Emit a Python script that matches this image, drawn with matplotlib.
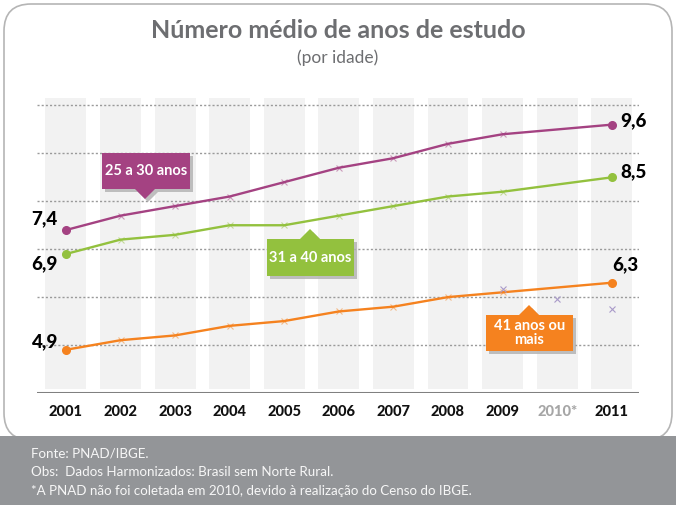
import matplotlib
matplotlib.use("Agg")
import matplotlib.pyplot as plt
from matplotlib.patches import Polygon, FancyBboxPatch, Rectangle

plt.rcParams['font.family'] = ['Lato', 'DejaVu Sans']

# ---- data ----
years = [2001, 2002, 2003, 2004, 2005, 2006, 2007, 2008, 2009, 2011]
year_ticks = [2001, 2002, 2003, 2004, 2005, 2006, 2007, 2008, 2009, 2010, 2011]
year_labels = ["2001", "2002", "2003", "2004", "2005", "2006", "2007", "2008", "2009", "2010*", "2011"]
s25_30 = [7.4, 7.7, 7.9, 8.1, 8.4, 8.7, 8.9, 9.2, 9.4, 9.6]
s31_40 = [6.9, 7.2, 7.3, 7.5, 7.5, 7.7, 7.9, 8.1, 8.2, 8.5]
s41 = [4.9, 5.1, 5.2, 5.4, 5.5, 5.7, 5.8, 6.0, 6.1, 6.3]
extra_years = [2009, 2010, 2011]
extra_vals = [6.17, 5.96, 5.76]
gridvals = [5, 6, 7, 8, 9, 10]

title = "Número médio de anos de estudo"
subtitle = "(por idade)"
footer = ["Fonte: PNAD/IBGE.",
          "Obs:  Dados Harmonizados: Brasil sem Norte Rural.",
          "*A PNAD não foi coletada em 2010, devido à realização do Censo do IBGE."]

PURPLE = "#A44282"
GREEN = "#93C13E"
ORANGE = "#F5821F"

W, H = 676, 505
fig = plt.figure(figsize=(W / 100, H / 100), dpi=100)

def fx(x):
    return x / W

def fy(y):
    return 1 - y / H

# border rounded box
fig.add_artist(FancyBboxPatch((fx(4), fy(440)), fx(668), (436) / H,
                              boxstyle="round,pad=0,rounding_size=0.04",
                              transform=fig.transFigure, fc="none",
                              ec="#b5b5b5", lw=1.2, mutation_aspect=W / H,
                              zorder=-1))
# footer
fig.add_artist(Rectangle((0, 0), 1, fy(436), transform=fig.transFigure,
                         fc="#939598", ec="none", zorder=0))
for i, line in enumerate(footer):
    fig.text(fx(31), fy(453 + i * 19), line, color="#f7f7f7", fontsize=9.6,
             va="center", ha="left")

fig.text(fx(338), fy(31), title, ha="center", va="center", fontsize=18,
         fontweight="bold", color="#6d6e71")
fig.text(fx(338), fy(58), subtitle, ha="center", va="center", fontsize=12.5,
         color="#6d6e71")

ymin, ymax = 4.0, 10.15
ax_left, ax_right = 37, 639
ax_bottom = 392.9
px_per_unit = 47.9
ax_top = ax_bottom - (ymax - ymin) * px_per_unit
ax = fig.add_axes([fx(ax_left), fy(ax_bottom), (ax_right - ax_left) / W,
                   (ax_bottom - ax_top) / H], zorder=2)
ax.set_xlim(2000.47, 2011.5)
ax.set_ylim(ymin, ymax)
ax.patch.set_alpha(0)

# background bars
ax.bar(year_ticks, [ymax - 4.08] * len(year_ticks), bottom=4.08, width=0.75,
       color="#f2f2f2", zorder=0)
for g in gridvals:
    ax.axhline(g, color="#9a9a9a", lw=1.0, ls=(0, (1.5, 1.5)), zorder=1)
ax.axhline(ymin, color="#808080", lw=2.2, zorder=2)

for s, c in [(s25_30, PURPLE), (s31_40, GREEN), (s41, ORANGE)]:
    ax.plot(years, s, color=c, lw=1.7, zorder=3, solid_capstyle="round")
    ax.plot(years[1:-1], s[1:-1], ls="none", marker="x", ms=4, mew=0.8,
            color=c, alpha=0.5, zorder=4)
    ax.plot([years[0], years[-1]], [s[0], s[-1]], ls="none", marker="o",
            ms=5.5, color=c, zorder=5)
ax.plot(extra_years, extra_vals, ls="none", marker="x", ms=4, mew=0.8,
        color="#a99bc9", zorder=4)

lab_kw = dict(textcoords="offset pixels", fontsize=13.5, fontweight="black",
              color="#000000", va="center")
ax.annotate(f"{s25_30[0]:.1f}".replace(".", ","), (years[0], s25_30[0]),
            xytext=(-8, 11), ha="right", **lab_kw)
ax.annotate(f"{s31_40[0]:.1f}".replace(".", ","), (years[0], s31_40[0]),
            xytext=(-8, -10), ha="right", **lab_kw)
ax.annotate(f"{s41[0]:.1f}".replace(".", ","), (years[0], s41[0]),
            xytext=(-8, 8), ha="right", **lab_kw)
ax.annotate(f"{s25_30[-1]:.1f}".replace(".", ","), (years[-1], s25_30[-1]),
            xytext=(9, 4), ha="left", **lab_kw)
ax.annotate(f"{s31_40[-1]:.1f}".replace(".", ","), (years[-1], s31_40[-1]),
            xytext=(9, 6), ha="left", **lab_kw)
ax.annotate(f"{s41[-1]:.1f}".replace(".", ","), (years[-1], s41[-1]),
            xytext=(14, 18), ha="center", **lab_kw)

ax.set_xticks(year_ticks)
ax.set_xticklabels(year_labels, fontsize=10.5, fontweight="black", color="#111111")
ax.get_xticklabels()[year_ticks.index(2010)].set_color("#a6a6a6")
ax.tick_params(axis="x", length=0, pad=9)
ax.set_yticks([])
for sp in ax.spines.values():
    sp.set_visible(False)

def callout(x0, x1, y0, y1, tipx, up, color, text):
    if up:
        tip_y = y0 - 10
        pts = [(x0, y0), (tipx - 10, y0), (tipx, tip_y), (tipx + 10, y0),
               (x1, y0), (x1, y1), (x0, y1)]
    else:
        tip_y = y1 + 10
        pts = [(x0, y0), (x1, y0), (x1, y1), (tipx + 10, y1), (tipx, tip_y),
               (tipx - 10, y1), (x0, y1)]
    sh = [(fx(px + 3), fy(py + 3)) for px, py in pts]
    fig.add_artist(Polygon(sh, closed=True, transform=fig.transFigure,
                           fc="#b0b0b0", ec="none", alpha=0.8, zorder=6))
    pp = [(fx(px), fy(py)) for px, py in pts]
    fig.add_artist(Polygon(pp, closed=True, transform=fig.transFigure,
                           fc=color, ec="none", zorder=7))
    fig.text(fx((x0 + x1) / 2), fy((y0 + y1) / 2), text, ha="center",
             va="center", color="white", fontsize=10.5, fontweight="bold",
             linespacing=1.05, zorder=8)

callout(102, 190, 153, 189, 145, False, PURPLE, "25 a 30 anos")
callout(267, 354, 239, 276, 310, True, GREEN, "31 a 40 anos")
callout(486, 573, 315, 351, 529, True, ORANGE, "41 anos ou\nmais")

fig.savefig("out.png", dpi=100)
